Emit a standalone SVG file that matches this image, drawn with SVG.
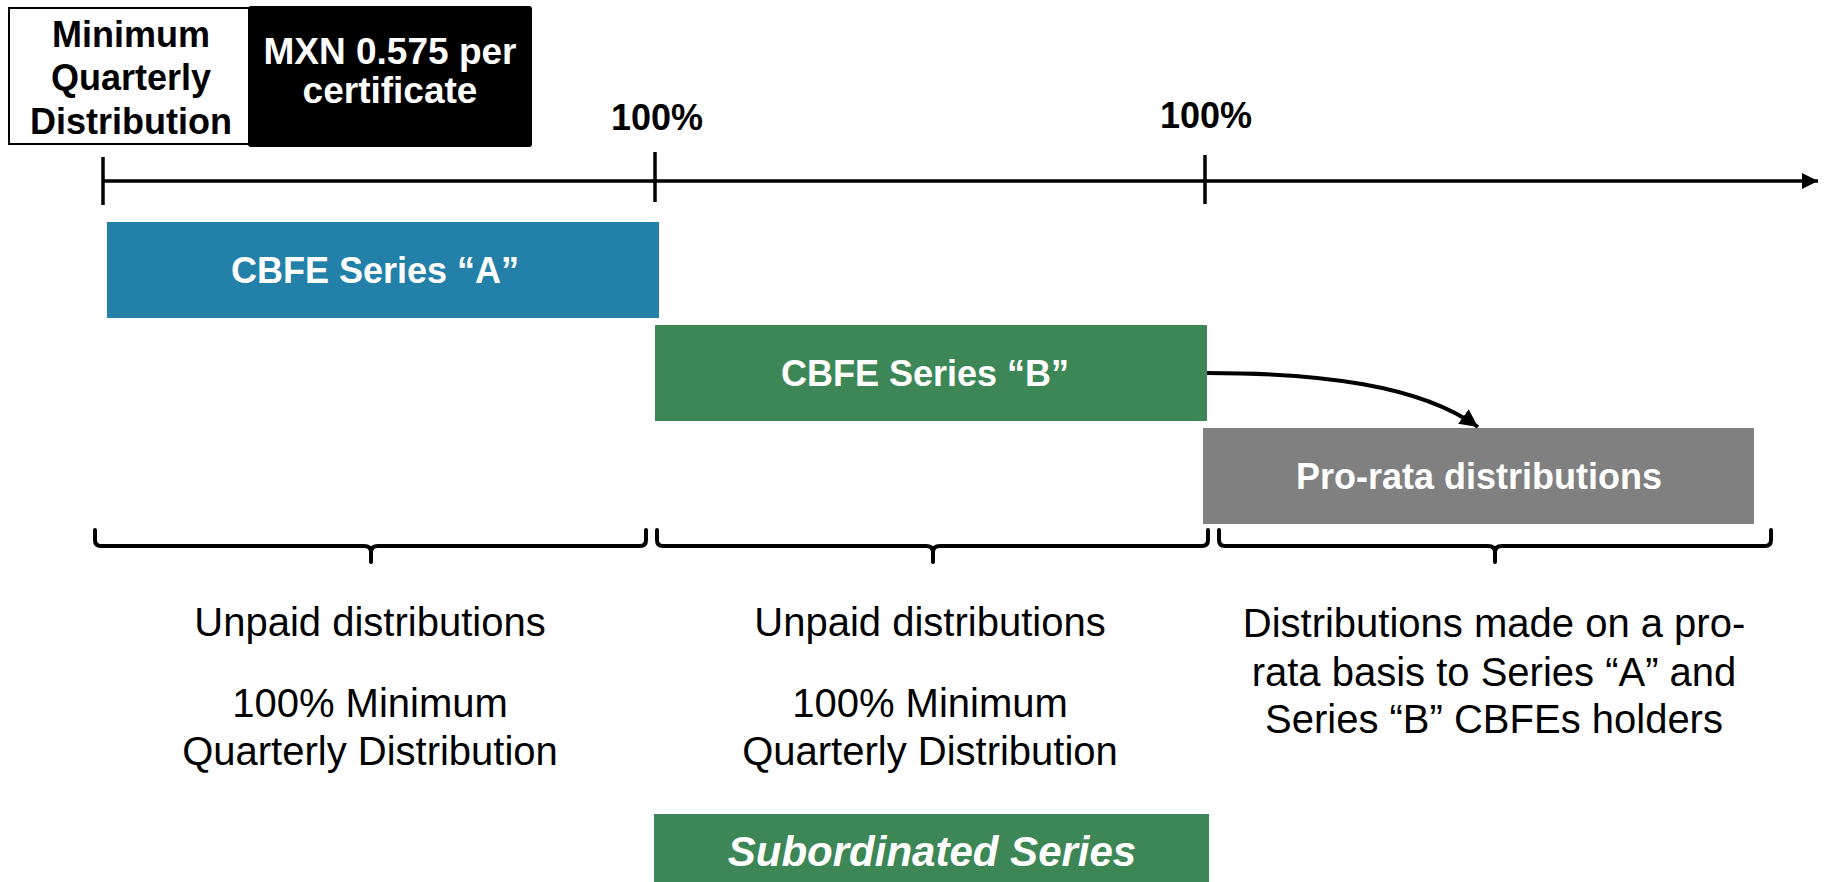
<svg xmlns="http://www.w3.org/2000/svg" width="1828" height="882" viewBox="0 0 1828 882">
  <style>
    .bold { font-family: "Liberation Sans", Arial, sans-serif; font-weight: bold; }
    .reg { font-family: "Liberation Sans", Arial, sans-serif; font-size: 40px; fill: #000; text-anchor: middle; }
    .boxlbl { font-family: "Liberation Sans", Arial, sans-serif; font-weight: bold; font-size: 36px; fill: #fff; text-anchor: middle; }
    .line { stroke: #000; stroke-width: 3.5; fill: none; }
    .brace { stroke: #000; stroke-width: 4; fill: none; stroke-linejoin: round; stroke-linecap: round; }
  </style>
  <defs>
    <marker id="arrowAxis" viewBox="0 0 10 10" refX="10" refY="5" markerWidth="16" markerHeight="16" markerUnits="userSpaceOnUse" orient="auto">
      <path d="M0,0 L10,5 L0,10 Z" fill="#000"/>
    </marker>
    <marker id="arrowCurve" viewBox="0 0 10 10" refX="10" refY="5" markerWidth="18" markerHeight="18" markerUnits="userSpaceOnUse" orient="auto">
      <path d="M0,0 L10,5 L0,10 Z" fill="#000"/>
    </marker>
  </defs>
  <rect width="1828" height="882" fill="#fff"/>

  <g id="min-quarterly-label">
    <rect x="9" y="8" width="240" height="136" fill="#fff" stroke="#000" stroke-width="2"/>
    <text class="bold" font-size="36" text-anchor="middle" x="131" y="47">Minimum</text>
    <text class="bold" font-size="36" text-anchor="middle" x="131" y="90">Quarterly</text>
    <text class="bold" font-size="36" text-anchor="middle" x="131" y="134">Distribution</text>
  </g>
  <g id="mxn-label">
    <rect x="248" y="6" width="284" height="141" rx="3" fill="#000"/>
    <text class="bold" font-size="37" fill="#fff" text-anchor="middle" x="390" y="64">MXN 0.575 per</text>
    <text class="bold" font-size="37" fill="#fff" text-anchor="middle" x="390" y="103">certificate</text>
  </g>

  <g id="timeline">
    <line class="line" x1="103" y1="181" x2="1818" y2="181" marker-end="url(#arrowAxis)"/>
    <line class="line" x1="103" y1="157" x2="103" y2="205"/>
    <line class="line" x1="655" y1="152" x2="655" y2="202"/>
    <line class="line" x1="1205" y1="155" x2="1205" y2="204"/>
    <text class="bold" font-size="36" text-anchor="middle" x="657" y="130">100%</text>
    <text class="bold" font-size="36" text-anchor="middle" x="1206" y="128">100%</text>
  </g>

  <g id="series-a">
    <rect x="107" y="222" width="552" height="96" fill="#2380A8"/>
    <text class="boxlbl" x="375" y="283">CBFE Series “A”</text>
  </g>
  <g id="series-b">
    <rect x="655" y="325" width="552" height="96" fill="#3D8757"/>
    <text class="boxlbl" x="925" y="386">CBFE Series “B”</text>
  </g>
  <g id="pro-rata">
    <rect x="1203" y="428" width="551" height="96" fill="#808080"/>
    <text class="boxlbl" font-size="37" x="1479" y="489">Pro-rata distributions</text>
  </g>

  <g id="connectors">
    <path d="M1207,373 C1320,373 1420,385 1478,427" fill="none" stroke="#000" stroke-width="4" marker-end="url(#arrowCurve)"/>
  </g>

  <g id="braces">
    <path class="brace" d="M95,530 L95,540 Q95,546 101,546 L364,546 Q371,546 371,552 L371,562 M371,552 Q371,546 378,546 L640,546 Q646,546 646,540 L646,530"/>
    <path class="brace" d="M657,530 L657,540 Q657,546 663,546 L926,546 Q933,546 933,552 L933,562 M933,552 Q933,546 940,546 L1202,546 Q1208,546 1208,540 L1208,530"/>
    <path class="brace" d="M1219,530 L1219,540 Q1219,546 1225,546 L1488,546 Q1495,546 1495,552 L1495,562 M1495,552 Q1495,546 1502,546 L1765,546 Q1771,546 1771,540 L1771,530"/>
  </g>

  <g id="desc-a">
    <text class="reg" x="370" y="636">Unpaid distributions</text>
    <text class="reg" x="370" y="717">100% Minimum</text>
    <text class="reg" x="370" y="765">Quarterly Distribution</text>
  </g>
  <g id="desc-b">
    <text class="reg" x="930" y="636">Unpaid distributions</text>
    <text class="reg" x="930" y="717">100% Minimum</text>
    <text class="reg" x="930" y="765">Quarterly Distribution</text>
  </g>
  <g id="desc-pro-rata">
    <text class="reg" x="1494" y="637">Distributions made on a pro-</text>
    <text class="reg" x="1494" y="686">rata basis to Series “A” and</text>
    <text class="reg" x="1494" y="733">Series “B” CBFEs holders</text>
  </g>

  <g id="subordinated-series">
    <rect x="654" y="814" width="555" height="68" fill="#3D8757"/>
    <text class="bold" font-size="42" font-style="italic" fill="#fff" text-anchor="middle" x="932" y="866">Subordinated Series</text>
  </g>
</svg>
